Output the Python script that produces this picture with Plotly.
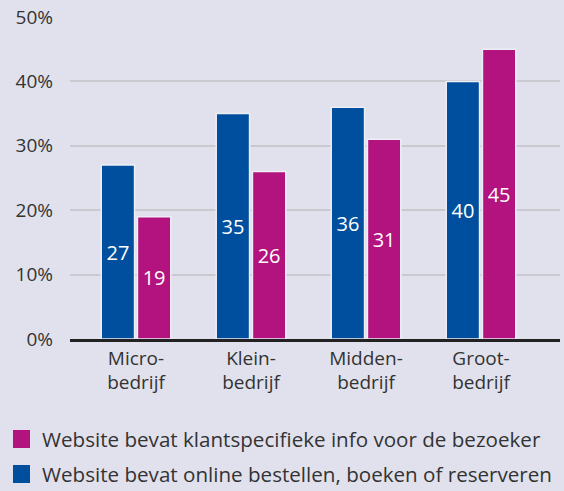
import plotly.graph_objects as go

categories = ["Micro-<br>bedrijf", "Klein-<br>bedrijf", "Midden-<br>bedrijf", "Groot-<br>bedrijf"]
online_bestellen = [27, 35, 36, 40]
klantspecifiek = [19, 26, 31, 45]
y_ticks = [0, 10, 20, 30, 40, 50]
y_tick_labels = ["0%", "10%", "20%", "30%", "40%", "50%"]
name_online = "Website bevat online bestellen, boeken of reserveren"
name_klant = "Website bevat klantspecifieke info voor de bezoeker"

BG = "#e1e1ed"
BLUE = "#004f9e"
MAGENTA = "#b2137e"
FONT = "Open Sans, Roboto, sans-serif"

W, H = 564, 491
M_L, M_R, M_T, M_B = 70, 4, 17, 152
PLOT_W = W - M_L - M_R
PLOT_H = H - M_T - M_B


def px_x(px):
    return (px - M_L) / PLOT_W


def px_y(py):
    return (H - M_B - py) / PLOT_H


fig = go.Figure()
for vals, color, name in [(online_bestellen, BLUE, name_online),
                          (klantspecifiek, MAGENTA, name_klant)]:
    fig.add_trace(go.Bar(
        x=categories, y=vals, name=name, showlegend=False,
        marker=dict(color=color, line=dict(color="#eeeef6", width=1.5)),
        text=[str(v) for v in vals],
        textposition="inside", insidetextanchor="middle",
        textfont=dict(color="white", size=20, family=FONT),
        hoverinfo="skip",
    ))

# Legend below the chart: colour swatch + label per series
legend_rows = [(MAGENTA, name_klant, 430), (BLUE, name_online, 465)]
for color, label, top in legend_rows:
    fig.add_shape(
        type="rect", xref="paper", yref="paper",
        x0=px_x(13), x1=px_x(30), y0=px_y(top + 18), y1=px_y(top),
        fillcolor=color, line=dict(width=0),
    )
    fig.add_annotation(
        xref="paper", yref="paper", x=px_x(40), y=px_y(top + 9),
        xanchor="left", yanchor="middle", showarrow=False,
        text=label, font=dict(size=20.6, color="#333333", family=FONT),
    )

fig.update_layout(
    width=W, height=H,
    paper_bgcolor=BG, plot_bgcolor=BG,
    margin=dict(l=M_L, r=M_R, t=M_T, b=M_B),
    barmode="group", bargap=0.37, bargroupgap=0.08,
    font=dict(family=FONT, size=19, color="#333333"),
    showlegend=False,
)
fig.update_yaxes(
    range=[0, 50], tickvals=y_ticks, ticktext=y_tick_labels,
    showgrid=True, gridcolor="#c9c9cf", gridwidth=1.5,
    zeroline=False, showline=False, ticks="",
    ticklabelstandoff=16,
    tickfont=dict(size=19, color="#333333"),
)
fig.update_xaxes(
    range=[-0.574, 3.687],
    showline=True, linecolor="#222222", linewidth=2.5,
    ticks="", showgrid=False,
    tickfont=dict(size=19, color="#333333"),
)

fig.write_html("out.html")
